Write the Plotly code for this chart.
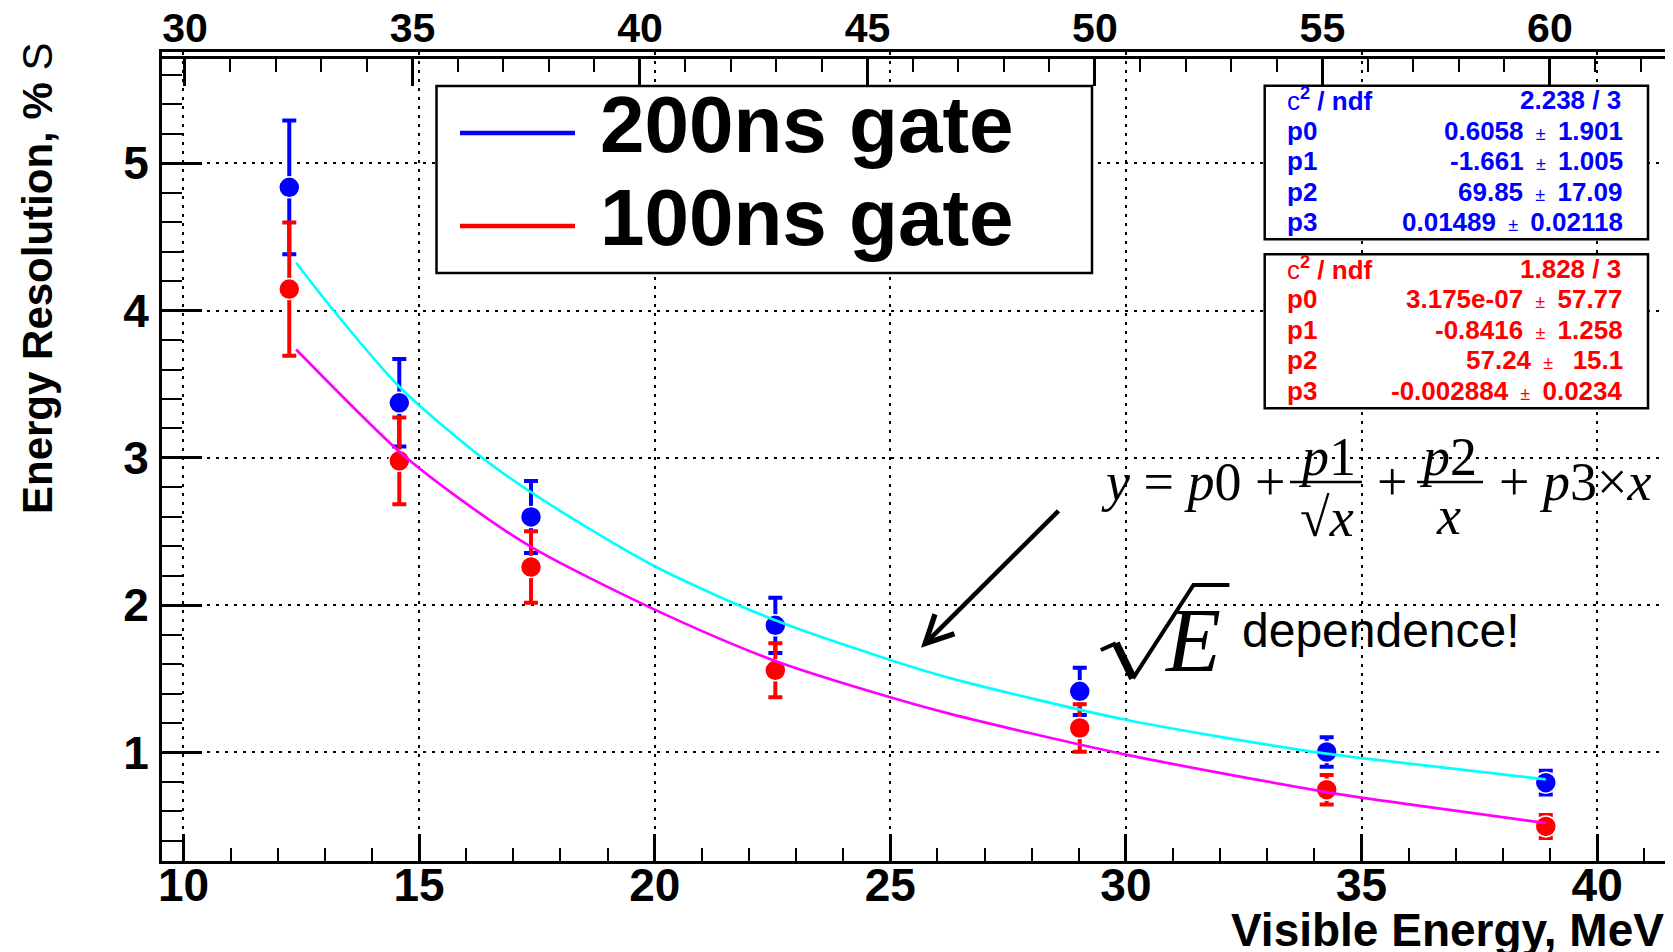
import plotly.graph_objects as go

# ---------------- data ----------------
energy = [12.245, 14.58, 17.375, 22.56, 29.02, 34.26, 38.91]
res_200 = [4.837, 3.374, 2.599, 1.863, 1.415, 1.003, 0.795]
err_200 = [0.454, 0.297, 0.244, 0.187, 0.160, 0.100, 0.080]
res_100 = [4.146, 2.980, 2.259, 1.558, 1.166, 0.747, 0.498]
err_100 = [0.453, 0.295, 0.243, 0.184, 0.161, 0.100, 0.078]

fit200_E = [12.39, 13.18, 14.59, 16.36, 17.6, 20.0, 22.56, 24.98, 26.27, 30.0, 33.69, 35.0, 38.91]
fit200_y = [4.325, 4.003, 3.48, 2.996, 2.72, 2.264, 1.897, 1.63, 1.505, 1.222, 1.018, 0.962, 0.817]
fit100_E = [12.39, 14.59, 15.87, 17.375, 20.0, 22.56, 24.98, 26.27, 30.0, 34.26, 35.82, 38.91]
fit100_y = [3.736, 3.04, 2.72, 2.396, 1.97, 1.621, 1.376, 1.262, 0.985, 0.731, 0.656, 0.52]

bottom_ticks = [10, 15, 20, 25, 30, 35, 40]
top_ticks = [30, 35, 40, 45, 50, 55, 60]
y_ticks = [1, 2, 3, 4, 5]

legend_labels = ["200ns gate", "100ns gate"]
par_names = ["p0", "p1", "p2", "p3"]
chi2_200 = "2.238 / 3"
val_200 = ["0.6058", "-1.661", "69.85", "0.01489"]
unc_200 = ["1.901", "1.005", "17.09", "0.02118"]
chi2_100 = "1.828 / 3"
val_100 = ["3.175e-07", "-0.8416", "57.24", "-0.002884"]
unc_100 = ["57.77", "1.258", "\u00a015.1", "0.0234"]

BLUE, RED, CYAN, MAGENTA = "#0000ff", "#ff0000", "#00ffff", "#ff00ff"

# ---------------- geometry ----------------
# the page body has an 8px margin; the figure is sized so it fills the window
OFF = 8
W, H = 1673 - OFF, 952 - OFF
# frame edges in window pixels
L, R, T, B = 162, 1670, 52, 861


def px(X):
    return (X - L) / (R - L)


def py(Y):
    return (B - Y) / (B - T)


SANS = "Liberation Sans, Arial, sans-serif"
SERIF = "Liberation Serif, Times New Roman, serif"

fig = go.Figure()

fig.add_trace(go.Scatter(
    x=energy, y=res_200, mode="markers",
    marker=dict(color=BLUE, size=21, line=dict(color="white", width=1.5)),
    error_y=dict(type="data", array=err_200, color=BLUE, thickness=4, width=7),
    showlegend=False, hoverinfo="skip"))
fig.add_trace(go.Scatter(
    x=energy, y=res_100, mode="markers",
    marker=dict(color=RED, size=21, line=dict(color="white", width=1.5)),
    error_y=dict(type="data", array=err_100, color=RED, thickness=4, width=7),
    showlegend=False, hoverinfo="skip"))
fig.add_trace(go.Scatter(
    x=fit200_E, y=fit200_y, mode="lines",
    line=dict(color=CYAN, width=2.7, shape="spline", smoothing=0.8),
    showlegend=False, hoverinfo="skip"))
fig.add_trace(go.Scatter(
    x=fit100_E, y=fit100_y, mode="lines",
    line=dict(color=MAGENTA, width=2.7, shape="spline", smoothing=0.8),
    showlegend=False, hoverinfo="skip"))
# invisible helper so the top axis is drawn
fig.add_trace(go.Scatter(
    x=top_ticks, y=[y_ticks[0]] * len(top_ticks), xaxis="x2", mode="markers",
    marker=dict(opacity=0), showlegend=False, hoverinfo="skip"))

grid = dict(showgrid=True, gridcolor="black", gridwidth=2.2, griddash="3px,6px")

fig.update_layout(
    width=W, height=H, autosize=False,
    margin=dict(l=L - OFF, r=W - (R - OFF), t=T - OFF, b=H - (B - OFF), autoexpand=False),
    paper_bgcolor="white", plot_bgcolor="white",
    showlegend=False,
    xaxis=dict(range=[9.544, 41.546], tickmode="array", tickvals=bottom_ticks,
               ticks="inside", ticklen=27, tickwidth=2.5, tickcolor="black",
               showline=True, linecolor="black", linewidth=3, mirror=True,
               zeroline=False, ticklabelstandoff=-18, automargin=False,
               tickfont=dict(family=SANS, size=46, color="black", weight="bold"),
               minor=dict(tickmode="linear", tick0=0, dtick=1, ticks="inside", ticklen=13,
                          tickwidth=2, tickcolor="black", showgrid=False),
               **grid),
    yaxis=dict(range=[0.263, 5.756], tickmode="array", tickvals=y_ticks,
               ticks="inside", ticklen=40, tickwidth=2.5, tickcolor="black",
               showline=True, linecolor="black", linewidth=3, mirror=True,
               zeroline=False, ticklabelstandoff=1, automargin=False,
               tickfont=dict(family=SANS, size=46, color="black", weight="bold"),
               minor=dict(tickmode="linear", tick0=0, dtick=0.2, ticks="inside", ticklen=20,
                          tickwidth=2, tickcolor="black", showgrid=False),
               **grid),
    xaxis2=dict(overlaying="x", side="top", anchor="free", position=1 - 5 / (B - T),
                range=[29.495, 62.64], tickmode="array", tickvals=top_ticks,
                ticks="inside", ticklen=27, tickwidth=2.5, tickcolor="black",
                showline=True, linecolor="black", linewidth=2.5, showgrid=False,
                zeroline=False, ticklabelstandoff=-2, automargin=False,
                tickfont=dict(family=SANS, size=41, color="black", weight="bold"),
                minor=dict(tickmode="linear", tick0=0, dtick=1, ticks="inside", ticklen=13,
                           tickwidth=2, tickcolor="black", showgrid=False)),
)

shapes = []
annotations = []


def ann(text, X, Y, size, family=SANS, color="black", xanchor="center",
        yanchor="middle", textangle=0):
    annotations.append(dict(text=text, x=px(X), y=py(Y), xref="paper", yref="paper",
                            showarrow=False, xanchor=xanchor, yanchor=yanchor,
                            textangle=textangle,
                            font=dict(family=family, size=size, color=color)))


def rect(x0, y0, x1, y1, lw=2.5):
    shapes.append(dict(type="rect", xref="paper", yref="paper", x0=px(x0), x1=px(x1),
                       y0=py(y1), y1=py(y0), line=dict(color="black", width=lw),
                       fillcolor="white", layer="above"))


def seg(x0, y0, x1, y1, color="black", lw=3):
    shapes.append(dict(type="line", xref="paper", yref="paper", x0=px(x0), x1=px(x1),
                       y0=py(y0), y1=py(y1), line=dict(color=color, width=lw),
                       layer="above"))


# axis titles
ann("<b>Visible Energy, MeV</b>", 1666, 930, 46, xanchor="right")
ann("<b>Energy Resolution, % </b><span style='font-weight:normal'>S</span>", 37, 279, 42,
    textangle=-90)

# legend box
rect(436.5, 86, 1092, 273)
seg(460, 133, 575, 133, BLUE, 4.5)
seg(460, 226, 575, 226, RED, 4.5)
ann("<b>%s</b>" % legend_labels[0], 598, 125, 80, xanchor="left")
ann("<b>%s</b>" % legend_labels[1], 598, 217, 80, xanchor="left")

# fit statistics boxes
PM = "<span style='font-weight:normal;font-size:18px'>\u00a0\u00b1\u00a0</span>"
CHI = "<span style='font-weight:normal'>c</span><sup>2</sup> / ndf"
for (top, bot, color, chi2, vals, uncs) in [
        (85.7, 239.3, BLUE, chi2_200, val_200, unc_200),
        (254.3, 408.3, RED, chi2_100, val_100, unc_100)]:
    rect(1264.7, top, 1648, bot)
    rows = [top + 14.3 + 30.6 * i for i in range(5)]
    ann("<b>%s</b>" % CHI, 1285, rows[0], 26, color=color, xanchor="left")
    ann("<b>%s</b>" % chi2, 1623, rows[0], 26, color=color, xanchor="right")
    for i, name in enumerate(par_names):
        ann("<b>%s</b>" % name, 1285, rows[i + 1], 26, color=color, xanchor="left")
        ann("<b>%s</b> %s <b>%s</b>" % (vals[i], PM, uncs[i]), 1625, rows[i + 1], 26,
            color=color, xanchor="right")

# formula
FS = 54
ann("<i>y</i> = <i>p</i>0 +", 1099, 482, FS, SERIF, xanchor="left")
ann("<i>p</i>1", 1327, 457, FS, SERIF)
seg(1290, 482, 1362, 482, "black", 2.5)
ann("\u221a<i>x</i>", 1327, 518, FS, SERIF)
ann("+", 1392, 482, FS, SERIF)
ann("<i>p</i>2", 1448, 457, FS, SERIF)
seg(1417, 482, 1483, 482, "black", 2.5)
ann("<i>x</i>", 1448, 516, FS, SERIF)
ann("+ <i>p</i>3\u00d7<i>x</i>", 1497, 482, FS, SERIF, xanchor="left")

# sqrt(E) dependence!
shapes.append(dict(type="path", xref="paper", yref="paper",
                   path="M %f,%f L %f,%f" % (px(1100.8), py(650), px(1115.9), py(643.3)),
                   line=dict(color="black", width=4), layer="above"))
seg(1115.9, 643.3, 1133, 678.3, "black", 8)
shapes.append(dict(type="path", xref="paper", yref="paper",
                   path="M %f,%f L %f,%f L %f,%f" % (px(1133), py(678.3), px(1193.5), py(585),
                                                     px(1229.4), py(585)),
                   line=dict(color="black", width=4), layer="above"))
ann("<i>E</i>", 1192, 640, 90, SERIF)
ann("dependence!", 1240, 630, 48, xanchor="left")

# arrow
annotations.append(dict(text="", x=px(921), y=py(647.7), xref="paper", yref="paper",
                        ax=139, ay=-138.4, axref="pixel", ayref="pixel",
                        showarrow=True, arrowhead=5, arrowsize=1.2, arrowwidth=4.5,
                        arrowcolor="black"))

fig.update_layout(shapes=shapes, annotations=annotations)
fig.write_html("out.html")
